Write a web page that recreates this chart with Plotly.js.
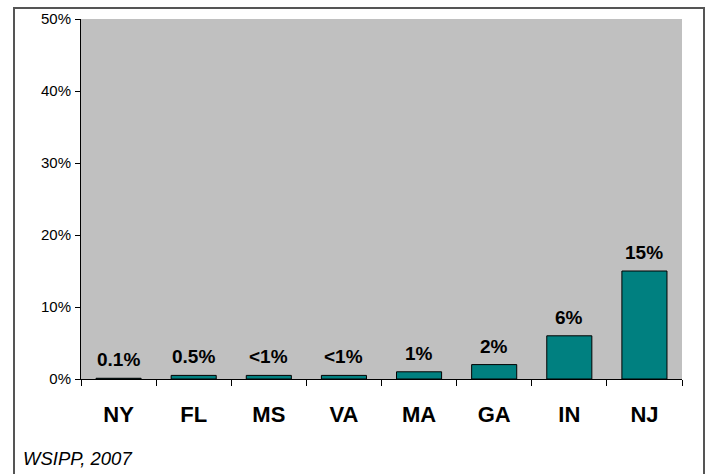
<!DOCTYPE html>
<html>
<head>
<meta charset="utf-8">
<script src="https://cdn.plot.ly/plotly-3.0.1.min.js"></script>
<style>
html,body{margin:0;padding:0;background:#fff;}
#wrap{position:relative;width:706px;height:474px;overflow:hidden;}
#chart{position:absolute;left:0;top:0;width:706px;height:474px;}
#frame{position:absolute;left:13px;top:7px;width:688px;height:480px;border:2px solid #555;border-bottom:none;pointer-events:none;}
</style>
</head>
<body>
<div id="wrap"><div id="chart"></div><div id="frame"></div></div>
<script>
const states = ["NY", "FL", "MS", "VA", "MA", "GA", "IN", "NJ"];
const values = [0.1, 0.5, 0.5, 0.5, 1, 2, 6, 15];
const labels = ["0.1%", "0.5%", "<1%", "<1%", "1%", "2%", "6%", "15%"];
const yTicks = [0, 10, 20, 30, 40, 50];
const yTickText = ["0%", "10%", "20%", "30%", "40%", "50%"];

const trace = {
  type: "bar",
  x: states,
  y: values,
  marker: {color: "#008080", line: {color: "#000", width: 1}},
  hoverinfo: "none"
};

const valueNotes = states.map((s, i) => ({
  x: s, y: values[i], xref: "x", yref: "y",
  text: "<b>" + labels[i].replace("<", "&lt;") + "</b>",
  showarrow: false, yanchor: "bottom", yshift: 6,
  font: {size: 19, color: "#000"}
}));

const layout = {
  width: 706, height: 474,
  margin: {l: 81, r: 24, t: 19, b: 95},
  paper_bgcolor: "rgba(0,0,0,0)",
  plot_bgcolor: "#C0C0C0",
  bargap: 0.4,
  showlegend: false,
  font: {family: "Liberation Sans, Arial, sans-serif", color: "#000"},
  xaxis: {
    showline: true, linecolor: "#000", linewidth: 1,
    ticks: "outside", tickson: "boundaries", ticklen: 6, tickcolor: "#000",
    tickfont: {size: 22, weight: "bold"},
    ticklabelstandoff: 16,
    showgrid: false, zeroline: false
  },
  yaxis: {
    range: [0, 50],
    tickvals: yTicks, ticktext: yTickText,
    showline: true, linecolor: "#000", linewidth: 1,
    ticks: "outside", ticklen: 5, tickcolor: "#000",
    tickfont: {size: 15},
    ticklabelstandoff: 1,
    showgrid: false, zeroline: false
  },
  annotations: valueNotes.concat([{
    text: "<i>WSIPP, 2007</i>", xref: "paper", yref: "paper",
    x: -0.1, y: -0.22, xanchor: "left", yanchor: "middle",
    showarrow: false, font: {size: 18.5}
  }])
};

Plotly.newPlot("chart", [trace], layout, {displayModeBar: false, staticPlot: true});
</script>
</body>
</html>
